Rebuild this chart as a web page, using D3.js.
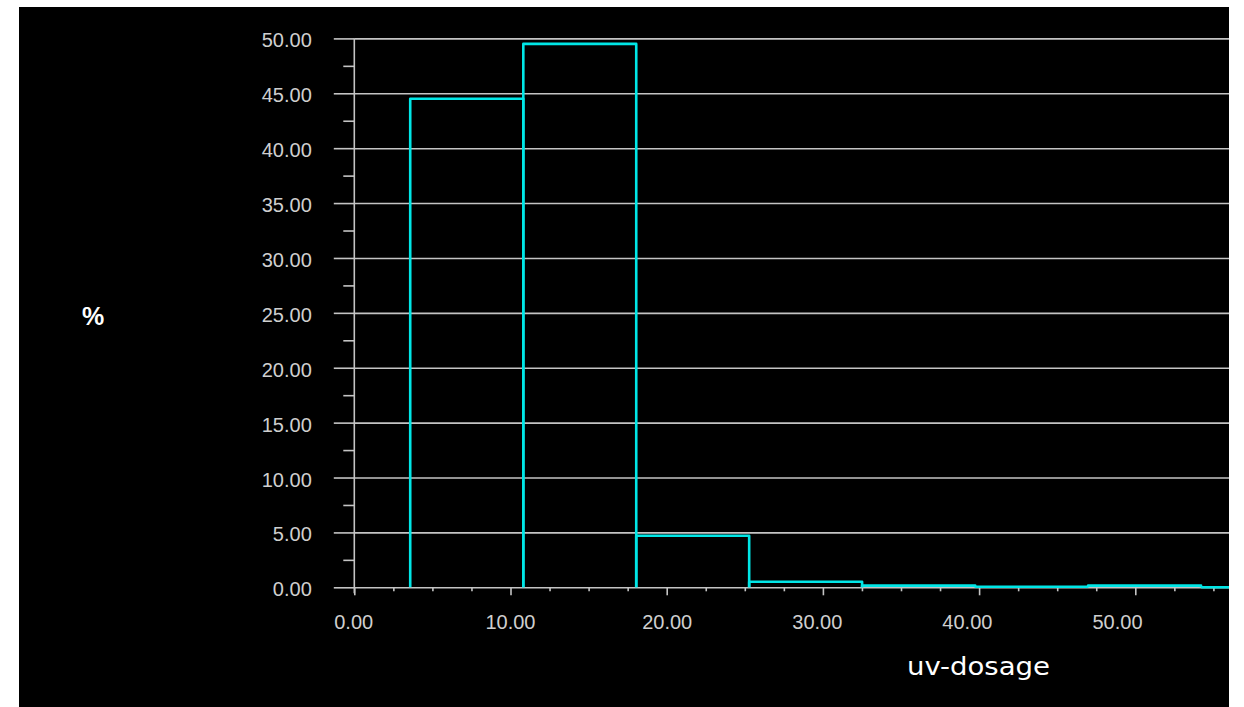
<!DOCTYPE html>
<html>
<head>
<meta charset="utf-8">
<script src="https://cdn.jsdelivr.net/npm/d3@7"></script>
<style>
  html, body { margin: 0; padding: 0; background: #ffffff; }
  svg { display: block; }
</style>
</head>
<body>
<svg id="chart" width="1244" height="707"></svg>
<script>
// Histogram of UV dosage: bin edges and share of samples (%) per bin
const binEdges = [3.58, 10.82, 18.05, 25.28, 32.51, 39.75, 46.98, 54.21, 61.44];
const percent = [44.5, 49.5, 4.7, 0.5, 0.15, 0.05, 0.15, 0.01];

// Axis ticks
const yMajorTicks = [0, 5, 10, 15, 20, 25, 30, 35, 40, 45, 50];
const yMinorTicks = [2.5, 7.5, 12.5, 17.5, 22.5, 27.5, 32.5, 37.5, 42.5, 47.5];
const xMajorTicks = [0, 10, 20, 30, 40, 50];
const xMinorTicks = [2.5, 5, 7.5, 12.5, 15, 17.5, 22.5, 25, 27.5, 32.5, 35, 37.5, 42.5, 45, 47.5, 52.5, 55];

const xTitle = "uv-dosage";
const yTitle = "%";

const fmt = d3.format(".2f");

const panel = { left: 19, top: 7, right: 1229, bottom: 707 };
const origin = { x: 354.3, y: 587.3 };

const x = d3.scaleLinear().domain([0, 50]).range([origin.x, origin.x + 781]);
// tick labels sit on a slightly compressed spacing past 20
const xLabel = d3.scaleLinear().domain([0, 20, 50]).range([353.2, 666.7, 1117]);
const y = d3.scaleLinear().domain([0, 50]).range([origin.y, 38.4]);

const svg = d3.select("#chart");

svg.append("rect")
  .attr("x", panel.left).attr("y", panel.top)
  .attr("width", panel.right - panel.left)
  .attr("height", panel.bottom - panel.top)
  .attr("fill", "#000000");

svg.append("clipPath").attr("id", "plotClip")
  .append("rect")
  .attr("x", panel.left).attr("y", panel.top)
  .attr("width", panel.right - panel.left)
  .attr("height", panel.bottom - panel.top);

const gridColor = "#c4c4c4";

// horizontal grid lines, which also serve as the major y ticks
const grid = svg.append("g")
  .attr("transform", `translate(${origin.x},0)`)
  .call(d3.axisRight(y).tickValues(yMajorTicks).tickSize(panel.right - origin.x).tickFormat(""));
grid.select(".domain").remove();
grid.selectAll(".tick line").attr("stroke", gridColor).attr("stroke-width", 1.6);

// major y ticks + labels
const yAxis = svg.append("g")
  .attr("transform", `translate(${origin.x},0)`)
  .call(d3.axisLeft(y).tickValues(yMajorTicks).tickSize(20.5).tickPadding(22).tickFormat(fmt));
yAxis.select(".domain").remove();
yAxis.selectAll(".tick line").attr("stroke", gridColor).attr("stroke-width", 1.6);
yAxis.selectAll(".tick text")
  .attr("dy", 8.5)
  .attr("fill", "#cfcfcf")
  .style("font-family", "'Liberation Sans', Arial, sans-serif")
  .style("font-size", "20px");

// minor y ticks
const yMinor = svg.append("g")
  .attr("transform", `translate(${origin.x},0)`)
  .call(d3.axisLeft(y).tickValues(yMinorTicks).tickSize(11).tickFormat(""));
yMinor.select(".domain").remove();
yMinor.selectAll(".tick line").attr("stroke", gridColor).attr("stroke-width", 1.6);

// y axis line
svg.append("line")
  .attr("x1", origin.x).attr("x2", origin.x)
  .attr("y1", y(50)).attr("y2", origin.y + 6)
  .attr("stroke", gridColor).attr("stroke-width", 1.6);

// x ticks
const xMajor = svg.append("g")
  .attr("transform", `translate(0,${origin.y})`)
  .call(d3.axisBottom(x).tickValues(xMajorTicks).tickSize(8).tickFormat(""));
xMajor.select(".domain").remove();
xMajor.selectAll(".tick line").attr("stroke", gridColor).attr("stroke-width", 1.6);

const xMinor = svg.append("g")
  .attr("transform", `translate(0,${origin.y})`)
  .call(d3.axisBottom(x).tickValues(xMinorTicks).tickSize(4).tickFormat(""));
xMinor.select(".domain").remove();
xMinor.selectAll(".tick line").attr("stroke", gridColor).attr("stroke-width", 1.6);

// x tick labels
const xLabels = svg.append("g")
  .attr("transform", `translate(0,${origin.y})`)
  .call(d3.axisBottom(xLabel).tickValues(xMajorTicks).tickSize(0).tickFormat(fmt));
xLabels.select(".domain").remove();
xLabels.selectAll(".tick line").remove();
xLabels.selectAll(".tick text")
  .attr("y", 0).attr("dy", 42)
  .attr("fill", "#cfcfcf")
  .style("font-family", "'Liberation Sans', Arial, sans-serif")
  .style("font-size", "20px");

// histogram bars: open-bottom outlines
const bins = percent.map((v, i) => ({ x0: binEdges[i], x1: binEdges[i + 1], v }));
svg.append("g")
  .attr("clip-path", "url(#plotClip)")
  .selectAll("path")
  .data(bins)
  .join("path")
  .attr("d", d => `M${x(d.x0)},${y(0)}V${y(d.v)}H${x(d.x1)}V${y(0)}`)
  .attr("fill", "none")
  .attr("stroke", "#00e6e6")
  .attr("stroke-width", 2.6)
  .attr("stroke-linejoin", "round");

// axis titles
svg.append("text")
  .attr("x", 93).attr("y", 325)
  .attr("text-anchor", "middle")
  .attr("fill", "#ffffff")
  .style("font-family", "'Liberation Sans', Arial, sans-serif")
  .style("font-weight", "bold")
  .style("font-size", "25px")
  .text(yTitle);

svg.append("text")
  .attr("x", 907).attr("y", 675)
  .attr("fill", "#ffffff")
  .attr("textLength", 143)
  .attr("lengthAdjust", "spacingAndGlyphs")
  .style("font-family", "'DejaVu Sans', sans-serif")
  .style("font-size", "25px")
  .text(xTitle);
</script>
</body>
</html>
